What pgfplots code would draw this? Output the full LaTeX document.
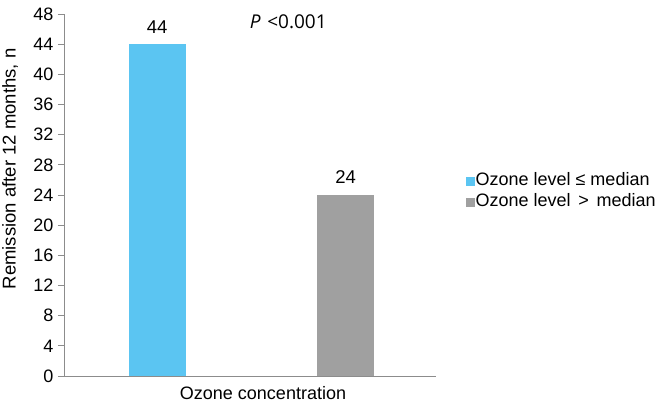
\documentclass[border=0pt]{standalone}
\usepackage{pgfplots}
\pgfplotsset{compat=1.18}
\usepackage{fontspec}
\setmainfont{Liberation Sans}
\newfontfamily\pfont{Open Sans}
\definecolor{cblue}{HTML}{5BC5F2}
\definecolor{cgray}{HTML}{A0A0A0}
\definecolor{axgray}{HTML}{8C8C8C}
\begin{document}
\begin{tikzpicture}[font=\fontsize{18}{21}\selectfont]
\begin{axis}[
  at={(0pt,0pt)}, anchor=south west,
  scale only axis, width=372pt, height=362pt,
  xmin=-0.494, xmax=1.48, ymin=0, ymax=48,
  axis x line=bottom, axis y line=left,
  axis line style={-, draw=axgray, line width=0.8pt},
  xtick=\empty, ytick={0,4,...,48},
  tick align=outside, major tick length=6pt,
  tick style={draw=axgray, line width=0.8pt},
  /pgf/number format/assume math mode=true,
  yticklabel style={font=\fontsize{18}{21}\selectfont, xshift=-1pt},
  ylabel={Remission after 12 months, n},
  every axis y label/.style={at={(rel axis cs:-0.145,0.572)}, rotate=90, anchor=center, font=\fontsize{18.5}{21}\selectfont},
  xlabel={Ozone concentration},
  every axis x label/.style={at={(rel axis cs:0.535,0)}, yshift=-17pt, anchor=center, font=\fontsize{18}{21}\selectfont},
  legend style={at={(rel axis cs:1.079,0.508)}, anchor=west, draw=none, fill=none,
    font=\fontsize{18}{21}\selectfont, row sep=0pt, inner sep=0pt,
    nodes={inner sep=1pt, text height=13pt, text depth=6pt}},
  legend cell align=left,
  legend image code/.code={\fill[#1] (0pt,-4pt) rectangle (9pt,5pt);},
  nodes near coords,
  nodes near coords style={font=\fontsize{18.5}{21}\selectfont, yshift=7.5pt},
]
\addplot[ybar, fill=cblue, draw=none, bar width=57pt, bar shift=0pt] coordinates {(0,44)};
\addlegendentry{Ozone level ≤ median}
\addplot[ybar, fill=cgray, draw=none, bar width=57pt, bar shift=0pt] coordinates {(1,24)};
\addlegendentry{Ozone level\hspace{0.15em} >\hspace{0.15em} median}
\node[font=\pfont\fontsize{19}{22}\selectfont, anchor=center] at (rel axis cs:0.603,0.979) {\textit{P}\hspace{0.35em}<0.001};
\end{axis}
\pgfresetboundingbox
\path[use as bounding box] (-64pt,-33pt) rectangle (595pt,376pt);
\end{tikzpicture}
\end{document}
